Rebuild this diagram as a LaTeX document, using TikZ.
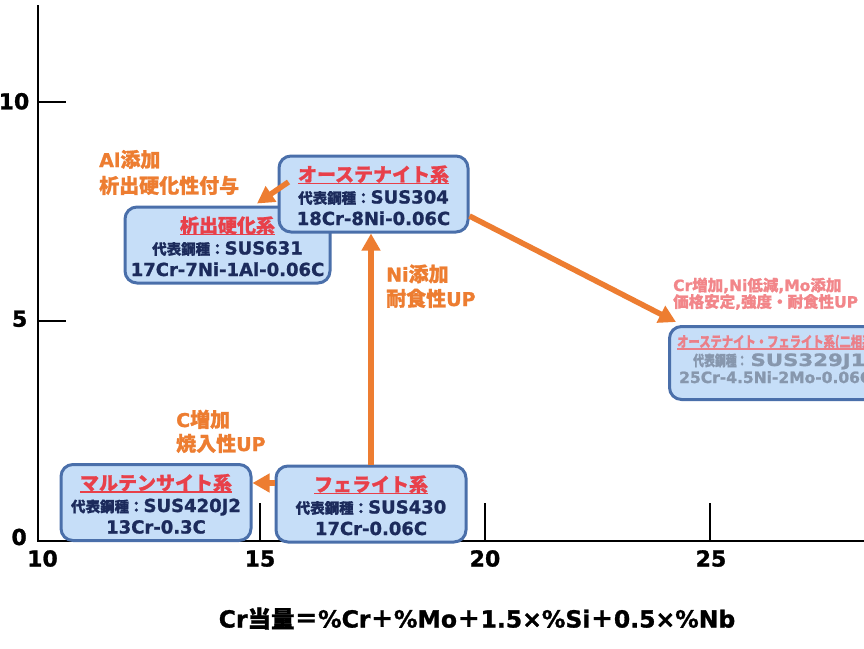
\documentclass[tikz,border=0pt]{standalone}
\usepackage{fontspec}
\usepackage{graphicx}
\setmainfont{DejaVu Sans}[BoldFeatures={FakeBold=1.2}]
\newfontfamily\jp{Noto Sans CJK JP}[BoldFeatures={FakeBold=1.0}]
\usetikzlibrary{arrows.meta}
\definecolor{orng}{HTML}{ED7D31}
\definecolor{bfill}{HTML}{C6DEF8}
\definecolor{bline}{HTML}{4A6FAA}
\definecolor{tred}{HTML}{E8404A}
\definecolor{navy}{HTML}{1C2B5C}
\definecolor{dpink}{HTML}{EB7F88}
\definecolor{lpink}{HTML}{F2868A}
\definecolor{dgrey}{HTML}{8797AD}
\newcommand\fs[1]{\fontsize{#1}{#1}\selectfont}
\newcommand\ulin[1]{\setbox0=\hbox{#1}\leavevmode\rlap{\rule[-2.5pt]{\wd0}{1.5pt}}\box0}
\begin{document}
\begin{tikzpicture}[x=1pt,y=-1pt,
  every node/.style={inner sep=0pt, font=\bfseries},
  box/.style={draw=bline, line width=3pt, fill=bfill, rounded corners=12pt},
  arr/.style={draw=orng, line width=5.5pt, -{Triangle[length=17pt,width=18pt]}},
  lab/.style={anchor=base west, text=orng},
  ttl/.style={anchor=base, text=tred},
  body/.style={anchor=base, text=navy},
  ax/.style={line width=1.3pt},
  ticklab/.style={font=\bfseries\fs{22}}]
\clip (0,0) rectangle (864,648);
\fill[white] (0,0) rectangle (864,648);
% axes
\coordinate (O) at (38,541);
\coordinate (ytop) at (38,5);
\coordinate (xend) at (870,541);
\draw[ax] (ytop) -- (O) -- (xend);
\draw[ax] (38,102) -- (66,102);
\draw[ax] (38,321) -- (66,321);
\draw[ax] (260,541) -- (260,503);
\draw[ax] (485,541) -- (485,503);
\draw[ax] (710,541) -- (710,503);
\node[ticklab, anchor=base east] (y10) at (29.5,109.3) {10};
\node[ticklab, anchor=base east] (y5) at (27.5,326.7) {5};
\node[ticklab, anchor=base east] (y0) at (27,545) {0};
\node[ticklab, anchor=base] (x10) at (42.5,566.5) {10};
\node[ticklab, anchor=base] (x15) at (260,566.5) {15};
\node[ticklab, anchor=base] (x20) at (485,566.5) {20};
\node[ticklab, anchor=base] (x25) at (711,566.5) {25};
\node[anchor=base, font=\bfseries\fs{23.5}] (xlab) at (477,627.5) {Cr{\jp 当量＝}\%Cr{\jp ＋}\%Mo{\jp ＋}1.5×\%Si{\jp ＋}0.5×\%Nb};
% boxes
\node[box, minimum width=205pt, minimum height=76pt] (pre) at (227.5,245) {};
\node[box, minimum width=189pt, minimum height=76pt] (aus) at (373.5,194) {};
\node[box, minimum width=190pt, minimum height=76pt] (mar) at (156,502.5) {};
\node[box, minimum width=190pt, minimum height=76pt] (fer) at (371,504) {};
\node[box, anchor=north west, minimum width=215pt, minimum height=73pt] (dual) at (668,325) {};
% arrows
\coordinate (a1) at ([xshift=11pt,yshift=12pt]aus.west);
\coordinate (a1t) at ([xshift=29.5pt,yshift=2pt]pre.north);
\draw[arr] (a1) -- (a1t);
\draw[arr] (fer.north) -- (fer.north |- aus.south);
\draw[arr] ([yshift=21pt]fer.west) -- ([yshift=21pt]fer.west -| mar.east);
\draw[arr] ([yshift=-22pt]aus.east) -- ([xshift=8pt,yshift=3pt]dual.north west);
% box texts
\node[ttl] (ausT) at ([yshift=12.5pt]aus.center) {\ulin{\jp\fs{19}オーステナイト系}};
\node[body] (ausB) at ([yshift=-9.5pt]aus.center) {{\jp\fs{14.5}代表鋼種：}{\fs{18}SUS304}};
\node[body] (ausC) at ([yshift=-31pt]aus.center) {\fs{18}18Cr-8Ni-0.06C};
\node[ttl] (preT) at ([yshift=12.5pt]pre.center) {\ulin{\jp\fs{19}析出硬化系}};
\node[body] (preB) at ([yshift=-9.5pt]pre.center) {{\jp\fs{14.5}代表鋼種：}{\fs{18}SUS631}};
\node[body] (preC) at ([yshift=-31pt]pre.center) {\fs{18}17Cr-7Ni-1Al-0.06C};
\node[ttl] (marT) at ([yshift=12.5pt]mar.center) {\ulin{\jp\fs{19}マルテンサイト系}};
\node[body] (marB) at ([yshift=-9.5pt]mar.center) {{\jp\fs{14.5}代表鋼種：}{\fs{18}SUS420J2}};
\node[body] (marC) at ([yshift=-31pt]mar.center) {\fs{18}13Cr-0.3C};
\node[ttl] (ferT) at ([yshift=12.5pt]fer.center) {\ulin{\jp\fs{19}フェライト系}};
\node[body] (ferB) at ([yshift=-9.5pt]fer.center) {{\jp\fs{14.5}代表鋼種：}{\fs{18}SUS430}};
\node[body] (ferC) at ([yshift=-31pt]fer.center) {\fs{18}17Cr-0.06C};
\node[anchor=base west, text=dpink] (dT) at (677,347) {\scalebox{0.78}[1]{\ulin{\jp\fs{14.5}オーステナイト・フェライト系(二相系)}}};
\node[anchor=base west, text=dgrey] (dB) at (693,366) {\scalebox{0.75}[1]{\jp\fs{14.5}代表鋼種：}\hspace{3pt}\scalebox{1.25}[1]{\fs{17}SUS329J1}};
\node[anchor=base west, text=dgrey] (dC) at (679,383) {\fs{15.5}25Cr-4.5Ni-2Mo-0.06C};
% labels
\node[lab] (l1a) at (99,167) {\fs{19}Al{\jp\fs{20}添加}};
\node[lab] (l1b) at (99,193) {\jp\fs{20}析出硬化性付与};
\node[lab] (l2a) at (386,281.5) {\fs{19}Ni{\jp\fs{20}添加}};
\node[lab] (l2b) at (386,306) {{\jp\fs{20}耐食性}\fs{19}UP};
\node[lab] (l3a) at (176,427) {\fs{19}C{\jp\fs{20}増加}};
\node[lab] (l3b) at (176,451) {{\jp\fs{20}焼入性}\fs{19}UP};
\node[anchor=base west, text=lpink] (l4a) at (673,291) {\fs{15.5}Cr{\jp 増加},Ni{\jp 低減},Mo{\jp 添加}};
\node[anchor=base west, text=lpink] (l4b) at (673,307.5) {\fs{15.5}{\jp 価格安定},{\jp 強度・耐食性}UP};
\end{tikzpicture}
\end{document}
